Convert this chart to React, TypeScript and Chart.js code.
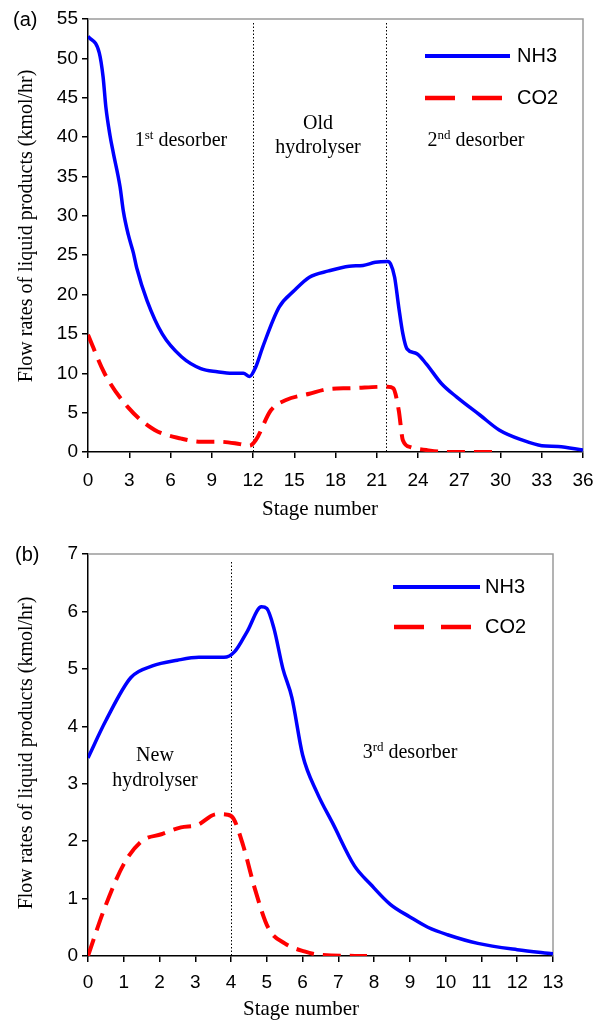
import React, { useEffect, useRef } from 'react';
import { Chart, registerables } from 'chart.js';

Chart.register(...registerables);

// ---------- data: chart (a) ----------
const aNh3Stage = [0, 0.82, 1.1, 1.3, 1.6, 1.84, 2.33, 2.57, 2.93, 3.3, 3.54, 4.3, 5.4, 6.8, 8.2, 9.4, 10.5, 11.3, 11.75, 12.2, 12.7, 13.9, 15, 16.1, 17.5, 19, 20, 20.9, 21.8, 22.0, 22.3, 22.6, 22.9, 23.2, 23.9, 24.6, 25.7, 26.8, 28.5, 29.9, 31.6, 33.0, 34.2, 36];
const aNh3Flow = [52.8, 50.7, 47.6, 43.8, 40.2, 38.0, 33.7, 30.6, 27.6, 25.3, 23.4, 19.2, 15.0, 12.1, 10.6, 10.2, 10.0, 10.0, 9.6, 10.8, 13.3, 18.4, 20.5, 22.2, 23.0, 23.6, 23.7, 24.1, 24.2, 23.9, 22.2, 18.4, 15.0, 13.1, 12.5, 11.2, 8.7, 7.0, 4.7, 2.8, 1.5, 0.8, 0.7, 0.25];
const aCo2Stage = [0, 1.2, 2.9, 4.85, 6.8, 8.2, 9.6, 11.05, 11.75, 12.2, 13.3, 14.4, 16.1, 17.5, 19, 21.8, 22.2, 22.6, 22.9, 23.5, 24.6, 26, 30];
const aCo2Flow = [14.9, 10, 5.7, 2.8, 1.7, 1.3, 1.3, 1.0, 0.8, 1.5, 5.3, 6.6, 7.4, 8.0, 8.1, 8.3, 8.1, 5.3, 1.5, 0.6, 0.25, 0, 0];
const aDividers = [12, 21.7];

// ---------- data: chart (b) ----------
const bNh3Stage = [0, 0.5, 1.2, 1.8, 2.5, 3.1, 3.8, 4.1, 4.45, 4.85, 5.0, 5.2, 5.45, 5.7, 6.0, 6.4, 6.85, 7.45, 7.9, 8.45, 9.0, 9.5, 10.05, 10.9, 12, 13];
const bNh3Flow = [3.45, 4.1, 4.85, 5.05, 5.15, 5.2, 5.2, 5.3, 5.65, 6.08, 6.05, 5.7, 5.0, 4.5, 3.5, 2.85, 2.3, 1.57, 1.25, 0.9, 0.68, 0.5, 0.37, 0.22, 0.11, 0.04];
const bCo2Stage = [0, 0.45, 1.0, 1.5, 2.05, 2.6, 3.05, 3.6, 3.9, 4.07, 4.34, 4.67, 5.04, 5.5, 6.05, 6.5, 7.8];
const bCo2Flow = [0, 0.81, 1.6, 2.0, 2.12, 2.24, 2.28, 2.47, 2.46, 2.39, 1.92, 1.16, 0.49, 0.22, 0.08, 0.02, 0];
const bDividers = [4];

const seriesNames = ['NH3', 'CO2'];
const yTitle = 'Flow rates of liquid products (kmol/hr)';
const xTitle = 'Stage number';

const BLUE = '#0000FF';
const RED = '#FF0000';
const SANS = '"Liberation Sans", Arial, sans-serif';
const SERIF = '"Liberation Serif", "Times New Roman", serif';

const pts = (xs: number[], ys: number[]) => xs.map((x, i) => ({ x, y: ys[i] }));

type Label = { cx: number; cy: number; base: string; sup?: string; rest?: string };
type Cfg = {
  canvasTop: number;
  height: number;
  padTop: number;
  padRight: number;
  xAxisHeight: number;
  xTickPad: number;
  xMax: number;
  xStep: number;
  yMax: number;
  yStep: number;
  nh3: { x: number; y: number }[];
  co2: { x: number; y: number }[];
  dividers: number[];
  dividerTop: number;
  panel: string;
  panelPos: [number, number];
  xTitlePos: [number, number];
  yTitlePos: [number, number];
  legend: { x1: number; x2: number; yNh3: number; yCo2: number; textX: number; dash: [number, number, number, number] };
  labels: Label[];
};

function drawLabel(ctx: CanvasRenderingContext2D, l: Label, off: number) {
  const big = `20px ${SERIF}`;
  const small = `13px ${SERIF}`;
  ctx.font = big;
  const wb = ctx.measureText(l.base).width;
  const wr = l.rest ? ctx.measureText(l.rest).width : 0;
  ctx.font = small;
  const ws = l.sup ? ctx.measureText(l.sup).width : 0;
  let x = l.cx - (wb + ws + wr) / 2;
  const y = l.cy - off + 6;
  ctx.textAlign = 'left';
  ctx.textBaseline = 'alphabetic';
  ctx.fillStyle = '#000';
  ctx.font = big;
  ctx.fillText(l.base, x, y);
  x += wb;
  if (l.sup) {
    ctx.font = small;
    ctx.fillText(l.sup, x, y - 7);
    x += ws;
  }
  if (l.rest) {
    ctx.font = big;
    ctx.fillText(l.rest, x, y);
  }
}

function makePlugin(cfg: Cfg) {
  return {
    id: 'decor',
    beforeDatasetsDraw(chart: any) {
      const { ctx, chartArea } = chart;
      const xs = chart.scales.x;
      ctx.save();
      ctx.strokeStyle = '#9a9a9a';
      ctx.lineWidth = 1.5;
      ctx.beginPath();
      ctx.moveTo(chartArea.left, chartArea.top);
      ctx.lineTo(chartArea.right, chartArea.top);
      ctx.lineTo(chartArea.right, chartArea.bottom);
      ctx.stroke();
      ctx.strokeStyle = '#000';
      ctx.lineWidth = 1;
      ctx.setLineDash([1.5, 2]);
      cfg.dividers.forEach((d) => {
        const px = Math.round(xs.getPixelForValue(d)) + 0.5;
        ctx.beginPath();
        ctx.moveTo(px, cfg.dividerTop - cfg.canvasTop);
        ctx.lineTo(px, chartArea.bottom);
        ctx.stroke();
      });
      ctx.restore();
    },
    afterDraw(chart: any) {
      const { ctx } = chart;
      const off = cfg.canvasTop;
      ctx.save();
      ctx.fillStyle = '#000';
      ctx.font = `20px ${SANS}`;
      ctx.textAlign = 'left';
      ctx.textBaseline = 'middle';
      ctx.fillText(cfg.panel, cfg.panelPos[0], cfg.panelPos[1] - off);
      ctx.font = `21px ${SERIF}`;
      ctx.textAlign = 'center';
      ctx.fillText(xTitle, cfg.xTitlePos[0], cfg.xTitlePos[1] - off);
      ctx.save();
      ctx.translate(cfg.yTitlePos[0], cfg.yTitlePos[1] - off);
      ctx.rotate(-Math.PI / 2);
      ctx.font = `20px ${SERIF}`;
      ctx.fillText(yTitle, 0, 0);
      ctx.restore();
      cfg.labels.forEach((l) => drawLabel(ctx, l, off));
      const lg = cfg.legend;
      ctx.lineCap = 'butt';
      ctx.strokeStyle = BLUE;
      ctx.lineWidth = 4;
      ctx.beginPath();
      ctx.moveTo(lg.x1, lg.yNh3 - off);
      ctx.lineTo(lg.x2, lg.yNh3 - off);
      ctx.stroke();
      ctx.strokeStyle = RED;
      ctx.lineWidth = 4.5;
      ctx.beginPath();
      ctx.moveTo(lg.dash[0], lg.yCo2 - off);
      ctx.lineTo(lg.dash[1], lg.yCo2 - off);
      ctx.moveTo(lg.dash[2], lg.yCo2 - off);
      ctx.lineTo(lg.dash[3], lg.yCo2 - off);
      ctx.stroke();
      ctx.fillStyle = '#000';
      ctx.font = `20px ${SANS}`;
      ctx.textAlign = 'left';
      ctx.textBaseline = 'middle';
      ctx.fillText(seriesNames[0], lg.textX, lg.yNh3 - off);
      ctx.fillText(seriesNames[1], lg.textX, lg.yCo2 - off);
      ctx.restore();
    },
  };
}

function Panel({ cfg }: { cfg: Cfg }) {
  const ref = useRef<HTMLCanvasElement>(null);
  useEffect(() => {
    if (!ref.current) return;
    const chart = new Chart(ref.current, {
      type: 'line',
      data: {
        datasets: [
          {
            label: seriesNames[0],
            data: cfg.nh3,
            borderColor: BLUE,
            borderWidth: 3.5,
            pointRadius: 0,
            cubicInterpolationMode: 'monotone',
            fill: false,
          },
          {
            label: seriesNames[1],
            data: cfg.co2,
            borderColor: RED,
            borderWidth: 4,
            borderDash: [18, 9],
            pointRadius: 0,
            cubicInterpolationMode: 'monotone',
            fill: false,
          },
        ],
      },
      options: {
        animation: false,
        responsive: false,
        maintainAspectRatio: false,
        layout: { padding: { left: 14, top: cfg.padTop, right: cfg.padRight, bottom: 0 } },
        plugins: { legend: { display: false }, tooltip: { enabled: false } },
        scales: {
          x: {
            type: 'linear',
            min: 0,
            max: cfg.xMax,
            afterFit: (s: any) => {
              s.height = cfg.xAxisHeight;
            },
            ticks: {
              stepSize: cfg.xStep,
              color: '#000',
              font: { family: SANS, size: 19 },
              maxRotation: 0,
              padding: cfg.xTickPad,
            },
            grid: { drawOnChartArea: false, drawTicks: true, tickLength: 6, color: '#000', lineWidth: 1.5 },
            border: { color: '#000', width: 1.5 },
            title: { display: false },
          },
          y: {
            type: 'linear',
            min: 0,
            max: cfg.yMax,
            afterFit: (s: any) => {
              s.width = 74;
            },
            ticks: {
              stepSize: cfg.yStep,
              color: '#000',
              font: { family: SANS, size: 19 },
              padding: 4,
            },
            grid: { drawOnChartArea: false, drawTicks: true, tickLength: 6, color: '#000', lineWidth: 1.5 },
            border: { color: '#000', width: 1.5 },
            title: { display: false },
          },
        },
      },
      plugins: [makePlugin(cfg)],
    } as any);
    return () => chart.destroy();
  }, [cfg]);
  return (
    <canvas
      ref={ref}
      width={606}
      height={cfg.height}
      style={{ position: 'absolute', left: 0, top: cfg.canvasTop, width: 606, height: cfg.height }}
    />
  );
}

const cfgA: Cfg = {
  canvasTop: 0,
  height: 530,
  padTop: 19,
  padRight: 23,
  xAxisHeight: 78,
  xTickPad: 11,
  xMax: 36,
  xStep: 3,
  yMax: 55,
  yStep: 5,
  nh3: pts(aNh3Stage, aNh3Flow),
  co2: pts(aCo2Stage, aCo2Flow),
  dividers: aDividers,
  dividerTop: 23,
  panel: '(a)',
  panelPos: [13, 20],
  xTitlePos: [320, 509],
  yTitlePos: [27, 226],
  legend: { x1: 425, x2: 510, yNh3: 56, yCo2: 98, textX: 517, dash: [425, 455, 472, 502] },
  labels: [
    { cx: 181, cy: 140, base: '1', sup: 'st', rest: ' desorber' },
    { cx: 318, cy: 123, base: 'Old' },
    { cx: 318, cy: 147, base: 'hydrolyser' },
    { cx: 476, cy: 140, base: '2', sup: 'nd', rest: ' desorber' },
  ],
};

const cfgB: Cfg = {
  canvasTop: 510,
  height: 511,
  padTop: 44,
  padRight: 53,
  xAxisHeight: 65,
  xTickPad: 9,
  xMax: 13,
  xStep: 1,
  yMax: 7,
  yStep: 1,
  nh3: pts(bNh3Stage, bNh3Flow),
  co2: pts(bCo2Stage, bCo2Flow),
  dividers: bDividers,
  dividerTop: 562,
  panel: '(b)',
  panelPos: [15, 555],
  xTitlePos: [301, 1009],
  yTitlePos: [27, 753],
  legend: { x1: 393, x2: 480, yNh3: 587, yCo2: 627, textX: 485, dash: [394, 424, 441, 471] },
  labels: [
    { cx: 155, cy: 755, base: 'New' },
    { cx: 155, cy: 780, base: 'hydrolyser' },
    { cx: 410, cy: 752, base: '3', sup: 'rd', rest: ' desorber' },
  ],
};

export default function App() {
  return (
    <div style={{ position: 'absolute', left: 0, top: 0, width: 606, height: 1021, background: '#fff' }}>
      <Panel cfg={cfgA} />
      <Panel cfg={cfgB} />
    </div>
  );
}
